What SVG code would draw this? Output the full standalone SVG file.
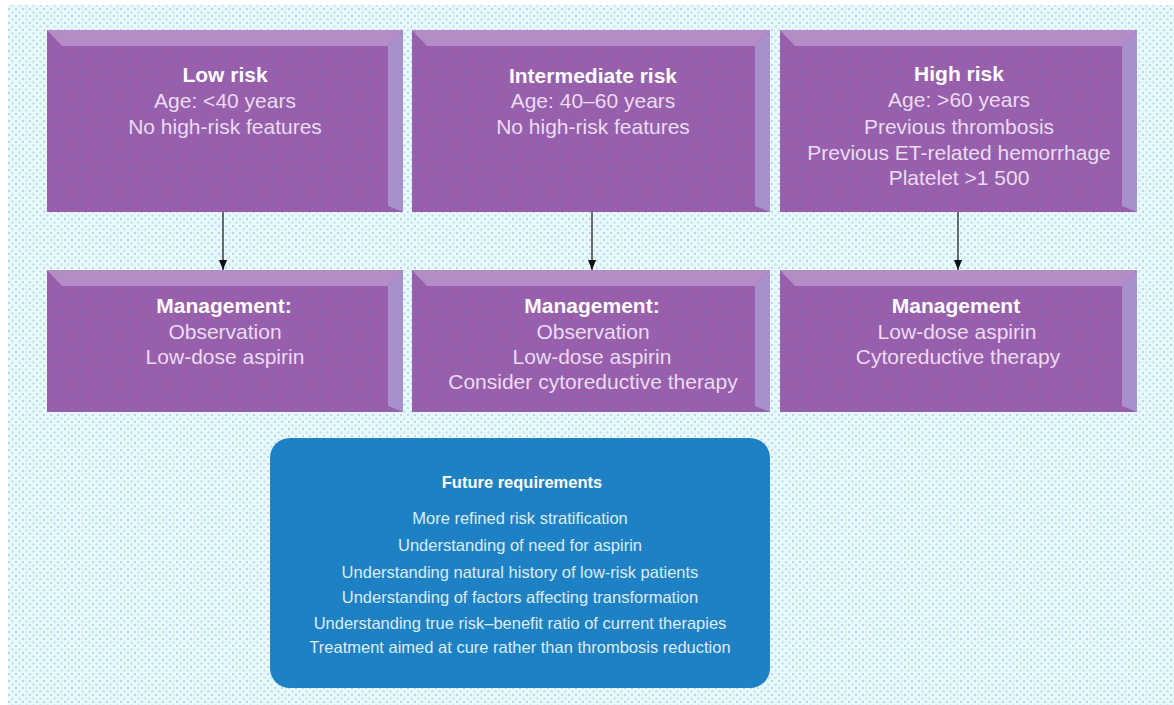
<svg xmlns="http://www.w3.org/2000/svg" width="1174" height="705" viewBox="0 0 1174 705">
<defs>
<pattern id="bgdots" width="7" height="7" patternUnits="userSpaceOnUse">
<rect width="7" height="7" fill="#e4fbff"/>
<rect x="1" y="1" width="2" height="2" fill="#d0c8f4"/>
<rect x="4.5" y="4.5" width="2" height="2" fill="#d2d6d8"/>
</pattern>
<pattern id="pdots" width="6" height="6" patternUnits="userSpaceOnUse">
<rect width="6" height="6" fill="#9a5eaa"/>
<rect x="2" y="2" width="2" height="2" fill="#7c6ab8"/>
</pattern>
<pattern id="bdots" width="5" height="5" patternUnits="userSpaceOnUse">
<rect width="5" height="5" fill="#1c82c4"/>
<rect x="2" y="2" width="1.5" height="1.5" fill="#2a78c8"/>
</pattern>
<marker id="arr" viewBox="0 0 10 10" refX="10" refY="5" markerWidth="10" markerHeight="10" markerUnits="userSpaceOnUse" orient="auto">
<path d="M0,1 L10,5 L0,9 Z" fill="#111"/>
</marker>
</defs>
<style>
.face{fill:url(#pdots)}
.btop{fill:#b38dc6}
.bright{fill:#a890cc}
.bbot{fill:#8a5a9e}
.t{font-family:"Liberation Sans",Arial,sans-serif;font-size:21px;text-anchor:middle;fill:#eadcf2}
.h{font-weight:bold;fill:#ffffff}
.bt{font-family:"Liberation Sans",Arial,sans-serif;font-size:16.5px;text-anchor:middle;fill:#dcecf8}
.bh{font-weight:bold;fill:#ffffff}
.conn{stroke:#111;stroke-width:1.2;fill:none}
</style>
<rect width="1174" height="705" fill="#ffffff"/>
<rect x="8" y="5" width="1166" height="700" fill="url(#bgdots)"/>

<g id="low-risk">
<rect class="face" x="47" y="30" width="356" height="182"/>
<polygon class="btop" points="47,30 403,30 388,46 62,46"/>
<polygon class="bright" points="403,30 403,212 388,206 388,46"/>
<text class="t h" x="225" y="82">Low risk</text>
<text class="t" x="225" y="108">Age: &lt;40 years</text>
<text class="t" x="225" y="134">No high-risk features</text>
</g>
<g id="intermediate-risk">
<rect class="face" x="412" y="30" width="358" height="182"/>
<polygon class="btop" points="412,30 770,30 755,46 427,46"/>
<polygon class="bright" points="770,30 770,212 755,206 755,46"/>
<text class="t h" x="593" y="83">Intermediate risk</text>
<text class="t" x="593" y="108">Age: 40–60 years</text>
<text class="t" x="593" y="134">No high-risk features</text>
</g>
<g id="high-risk">
<rect class="face" x="780" y="30" width="357" height="182"/>
<polygon class="btop" points="780,30 1137,30 1122,46 795,46"/>
<polygon class="bright" points="1137,30 1137,212 1122,206 1122,46"/>
<text class="t h" x="959" y="81">High risk</text>
<text class="t" x="959" y="107">Age: &gt;60 years</text>
<text class="t" x="959" y="134">Previous thrombosis</text>
<text class="t" x="959" y="160">Previous ET-related hemorrhage</text>
<text class="t" x="959" y="185">Platelet &gt;1 500</text>
</g>

<g id="mgmt-low">
<rect class="face" x="47" y="270" width="356" height="142"/>
<polygon class="btop" points="47,270 403,270 388,286 62,286"/>
<polygon class="bright" points="403,270 403,412 388,406 388,286"/>
<text class="t h" x="224" y="313">Management:</text>
<text class="t" x="225" y="339">Observation</text>
<text class="t" x="225" y="364">Low-dose aspirin</text>
</g>
<g id="mgmt-intermediate">
<rect class="face" x="412" y="270" width="358" height="142"/>
<polygon class="btop" points="412,270 770,270 755,286 427,286"/>
<polygon class="bright" points="770,270 770,412 755,406 755,286"/>
<text class="t h" x="592" y="313">Management:</text>
<text class="t" x="593" y="339">Observation</text>
<text class="t" x="592" y="364">Low-dose aspirin</text>
<text class="t" x="593" y="389">Consider cytoreductive therapy</text>
</g>
<g id="mgmt-high">
<rect class="face" x="780" y="270" width="357" height="142"/>
<polygon class="btop" points="780,270 1137,270 1122,286 795,286"/>
<polygon class="bright" points="1137,270 1137,412 1122,406 1122,286"/>
<text class="t h" x="956" y="313">Management</text>
<text class="t" x="957" y="339">Low-dose aspirin</text>
<text class="t" x="958" y="364">Cytoreductive therapy</text>
</g>

<g id="future">
<rect x="270" y="438" width="500" height="250" rx="20" ry="20" fill="url(#bdots)"/>
<text class="bt bh" x="522" y="488">Future requirements</text>
<text class="bt" x="520" y="524">More refined risk stratification</text>
<text class="bt" x="520" y="551">Understanding of need for aspirin</text>
<text class="bt" x="520" y="578">Understanding natural history of low-risk patients</text>
<text class="bt" x="520" y="603">Understanding of factors affecting transformation</text>
<text class="bt" x="520" y="629">Understanding true risk–benefit ratio of current therapies</text>
<text class="bt" x="520" y="653">Treatment aimed at cure rather than thrombosis reduction</text>
</g>

<g id="connectors">
<line class="conn" x1="223" y1="212" x2="223" y2="270" marker-end="url(#arr)"/>
<line class="conn" x1="592" y1="212" x2="592" y2="270" marker-end="url(#arr)"/>
<line class="conn" x1="958" y1="212" x2="958" y2="270" marker-end="url(#arr)"/>
</g>
</svg>
